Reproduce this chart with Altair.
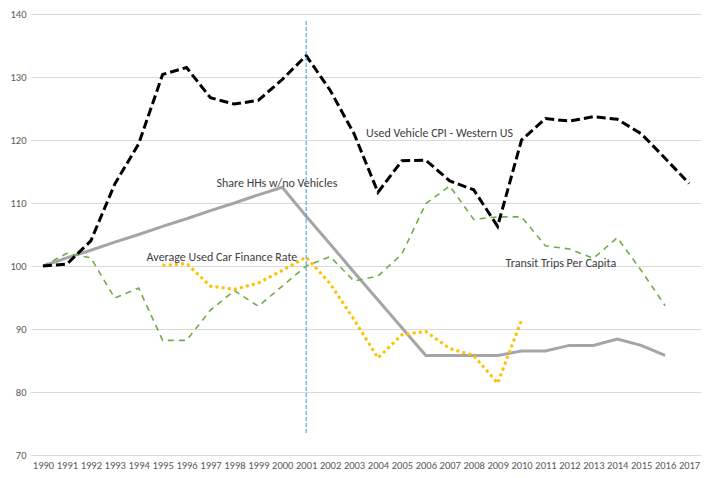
import altair as alt
import pandas as pd

years = list(range(1990, 2018))

used_vehicle_cpi = [100.0, 100.3, 104.0, 113.0, 119.4, 130.4, 131.5, 126.7, 125.7, 126.3,
                    129.6, 133.4, 127.9, 121.0, 111.7, 116.7, 116.8, 113.5, 112.1, 106.3,
                    120.0, 123.4, 123.0, 123.7, 123.3, 121.0, 117.1, 113.1]

share_hh_no_vehicles = [100.0, 101.3, 102.5, 103.8, 105.0, 106.3, 107.5, 108.8, 110.0, 111.3,
                        112.5, 107.9, 103.5, 99.0, 94.6, 90.2, 85.8, 85.8, 85.8, 85.8,
                        86.5, 86.5, 87.4, 87.4, 88.4, 87.4, 85.8, None]

transit_trips = [100.0, 102.0, 101.3, 94.9, 96.5, 88.2, 88.2, 93.0, 96.1, 93.6,
                 96.8, 100.0, 101.5, 97.6, 98.4, 101.9, 109.9, 112.7, 107.4, 107.8,
                 107.8, 103.2, 102.7, 101.2, 104.5, 99.3, 93.7, None]

finance_rate = [None, None, None, None, None, 100.1, 100.4, 96.8, 96.3, 97.3,
                99.3, 101.4, 97.2, 91.5, 85.4, 89.1, 89.6, 86.9, 85.8, 81.4,
                91.4, None, None, None, None, None, None, None]

label_texts = ["Used Vehicle CPI - Western US", "Share HHs w/no Vehicles",
               "Average Used Car Finance Rate", "Transit Trips Per Capita"]
label_years = [2003, 1998, 1995, 2009]
label_values = [121.1, 113.2, 101.5, 100.4]
label_dx = [12, -18, -16, 8]

marker_year = [2001]
marker_low = [73.5]
marker_high = [139.0]

series = {
    "cpi": used_vehicle_cpi,
    "share": share_hh_no_vehicles,
    "transit": transit_trips,
    "finance": finance_rate,
}
rows = []
for name, vals in series.items():
    for y, v in zip(years, vals):
        if v is not None:
            rows.append({"year": str(y), "series": name, "value": v})
df = pd.DataFrame(rows)

labels_df = pd.DataFrame({
    "text": label_texts,
    "year": [str(y) for y in label_years],
    "value": label_values,
    "dx": label_dx,
})
rule_df = pd.DataFrame({"year": [str(y) for y in marker_year], "lo": marker_low, "hi": marker_high})

FONT = "Carlito, 'Liberation Sans Narrow', 'Liberation Sans', sans-serif"

x_enc = alt.X("year:O", sort=[str(y) for y in years],
              scale=alt.Scale(type="point", padding=0.5, domain=[str(y) for y in years]),
              axis=alt.Axis(title=None, labelAngle=0, domain=False, ticks=False, grid=False,
                            labelPadding=5, labelFontSize=10.5, labelColor="#595959",
                            labelFont=FONT))
y_scale = alt.Scale(domain=[70, 140], nice=False, zero=False)
y_enc = alt.Y("value:Q", scale=y_scale,
              axis=alt.Axis(title=None, values=[70, 80, 90, 100, 110, 120, 130, 140],
                            domain=False, ticks=False, grid=True, gridColor="#d9d9d9",
                            labelPadding=5, labelFontSize=10.5, labelColor="#595959",
                            labelFont=FONT))

base = alt.Chart(df)

def line(name, color, width, dash=None):
    kw = dict(color=color, strokeWidth=width, strokeCap="butt", strokeJoin="miter")
    if dash:
        kw["strokeDash"] = dash
    return base.transform_filter(alt.datum.series == name).mark_line(**kw).encode(x=x_enc, y=y_enc)

gray = line("share", "#a5a5a5", 3)
green = line("transit", "#70ad47", 1.6, [6, 5])
yellow = line("finance", "#ffc000", 3, [3, 3.2])
black = line("cpi", "#000000", 3, [9, 4])

rule = alt.Chart(rule_df).mark_rule(color="#5aa5e8", strokeWidth=1.2, strokeDash=[4, 2]).encode(
    x=alt.X("year:O"), y=alt.Y("lo:Q", scale=y_scale), y2="hi:Q")

text_layers = []
for i in range(len(label_texts)):
    text_layers.append(
        alt.Chart(labels_df.iloc[[i]]).mark_text(align="left", baseline="middle", fontSize=12,
                                                 font=FONT, color="#404040", dx=label_dx[i]).encode(
            x=alt.X("year:O"), y=alt.Y("value:Q", scale=y_scale), text="text:N")
    )

chart = alt.layer(gray, green, yellow, black, rule, *text_layers).properties(
    width=670, height=441,
    autosize=alt.AutoSizeParams(type="none"),
    padding={"left": 23, "top": 6, "right": 0, "bottom": 15},
).configure_view(stroke=None)

chart.save("out.html", embed_options={"renderer": "svg", "actions": False})
